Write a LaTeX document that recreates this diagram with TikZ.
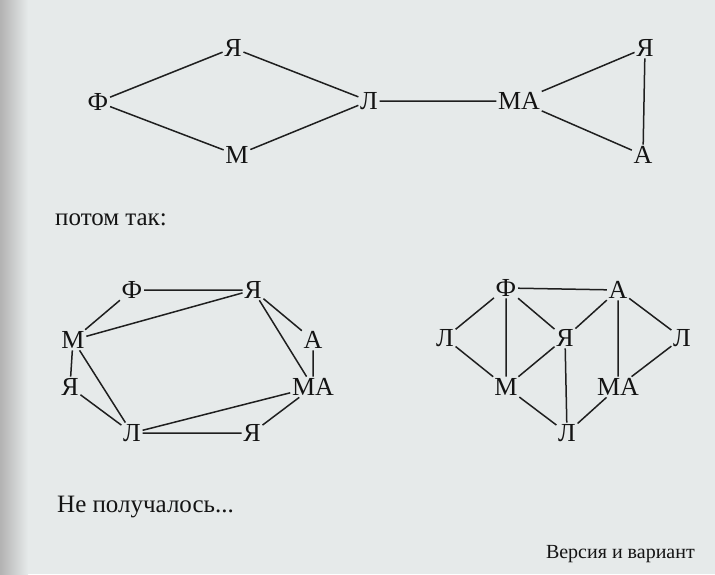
\documentclass[tikz,border=0pt]{standalone}
\usepackage{fontspec}
\setmainfont{Liberation Serif}
\begin{document}
\begin{tikzpicture}[x=1pt,y=-1pt,
  lbl/.style={inner sep=1.6pt,font=\fontsize{26}{28}\selectfont,text=black!92},
  edge/.style={line width=1.5pt,black!88},
  body/.style={font=\fontsize{25}{27}\selectfont,text=black!92,inner sep=0pt}]
\definecolor{paper}{HTML}{E6EAEA}
\fill[paper] (0,0) rectangle (715,574);
\shade[left color=black!30,right color=paper] (0,0) rectangle (28,574);
\useasboundingbox (0,0) rectangle (715,574);
% graph 1
\node[lbl] (a1) at (98,102) {Ф};
\node[lbl] (a2) at (233,48) {Я};
\node[lbl] (a3) at (237,155) {М};
\node[lbl] (a4) at (369,101) {Л};
\node[lbl] (a5) at (519,101) {МА};
\node[lbl] (a6) at (645,48) {Я};
\node[lbl] (a7) at (643,155) {А};
\draw[edge] (a1)--(a2) (a1)--(a3) (a2)--(a4) (a3)--(a4) (a4)--(a5)
  (a5)--(a6) (a5)--(a7) (a6)--(a7);
% text
\node[body,anchor=base west] (t1) at (55,225) {потом так:};
% graph 2
\node[lbl] (b1) at (132,290) {Ф};
\node[lbl] (b2) at (253,290) {Я};
\node[lbl] (b3) at (73,340) {М};
\node[lbl] (b4) at (313,340) {А};
\node[lbl] (b5) at (70,387) {Я};
\node[lbl] (b6) at (313,387) {МА};
\node[lbl] (b7) at (132,433) {Л};
\node[lbl] (b8) at (252,433) {Я};
\draw[edge] (b1)--(b2) (b1)--(b3) (b3)--(b2) (b2)--(b4) (b2)--(b6) (b4)--(b6)
  (b3)--(b5) (b3)--(b7) (b5)--(b7) (b7)--(b6) (b7)--(b8) (b8)--(b6);
% graph 3
\node[lbl] (c1) at (506,288) {Ф};
\node[lbl] (c2) at (618,290) {А};
\node[lbl] (c3) at (445,338) {Л};
\node[lbl] (c4) at (565,338) {Я};
\node[lbl] (c5) at (682,338) {Л};
\node[lbl] (c6) at (506,387) {М};
\node[lbl] (c7) at (618,387) {МА};
\node[lbl] (c8) at (567,433) {Л};
\draw[edge] (c1)--(c2) (c1)--(c3) (c1)--(c6) (c1)--(c4) (c2)--(c4) (c2)--(c7)
  (c2)--(c5) (c3)--(c6) (c6)--(c4) (c4)--(c8) (c6)--(c8) (c7)--(c8) (c7)--(c5);
% texts
\node[body,anchor=base west] (t2) at (57,512) {Не получалось...};
\node[body,anchor=base east,font=\fontsize{20}{22}\selectfont] (t3) at (695,558) {Версия и вариант};
\end{tikzpicture}
\end{document}
